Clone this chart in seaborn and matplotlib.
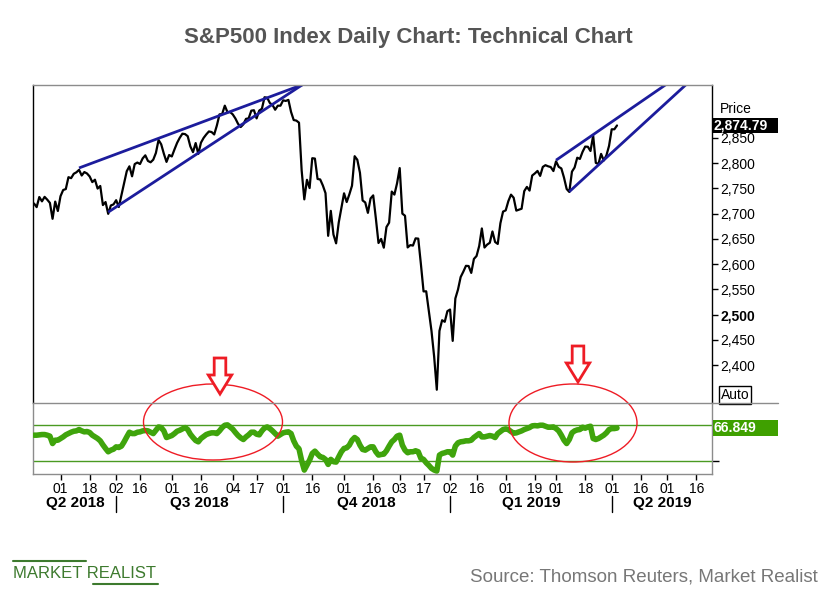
import numpy as np
import pandas as pd
import matplotlib
matplotlib.use("Agg")
import matplotlib.pyplot as plt
import matplotlib.transforms as mtransforms
from matplotlib.patches import Ellipse, Polygon, Rectangle
import seaborn as sns

# ---------------- data ----------------
first_day = "2018-05-17"
market_holidays = ["2018-05-28", "2018-07-04", "2018-09-03", "2018-11-22", "2018-12-05",
                   "2018-12-25", "2019-01-01", "2019-01-21", "2019-02-18", "2019-04-19",
                   "2019-05-27"]

close_2018_05 = [2720.13, 2712.97, 2733.01, 2724.44, 2733.29, 2727.76, 2721.33, 2689.86, 2724.01, 2705.27]
close_2018_06 = [2734.62, 2746.87, 2748.80, 2772.35, 2770.37, 2779.03, 2782.00, 2786.85, 2775.63, 2782.49,
                 2779.66, 2773.75, 2762.59, 2767.32, 2749.76, 2754.88, 2717.07, 2723.06, 2699.63, 2716.31,
                 2718.37]
close_2018_07 = [2726.71, 2713.22, 2736.61, 2759.82, 2784.17, 2793.84, 2774.02, 2798.29, 2801.31, 2798.43,
                 2809.55, 2815.62, 2804.49, 2801.83, 2806.98, 2820.40, 2846.07, 2837.44, 2818.82, 2802.60,
                 2816.29]
close_2018_08 = [2813.36, 2827.22, 2840.35, 2850.40, 2858.45, 2857.70, 2853.58, 2833.28, 2821.93, 2839.96,
                 2818.37, 2840.69, 2850.13, 2857.05, 2862.96, 2861.82, 2856.98, 2874.69, 2896.74, 2897.52,
                 2914.04, 2901.13, 2901.52]
close_2018_09 = [2896.72, 2888.60, 2878.05, 2871.68, 2877.13, 2887.89, 2888.92, 2904.18, 2904.98, 2888.80,
                 2904.31, 2907.95, 2930.75, 2929.67, 2919.37, 2915.56, 2905.97, 2914.00, 2913.98]
close_2018_10 = [2924.59, 2923.43, 2925.51, 2901.61, 2885.57, 2884.43, 2880.34, 2785.68, 2728.37, 2767.13,
                 2750.79, 2809.92, 2809.21, 2768.78, 2767.78, 2755.88, 2740.69, 2656.10, 2705.57, 2658.69,
                 2641.25, 2682.63, 2711.74]
close_2018_11 = [2740.37, 2723.06, 2738.31, 2755.45, 2813.89, 2806.83, 2781.01, 2726.22, 2722.18, 2701.58,
                 2730.20, 2736.27, 2690.73, 2641.89, 2649.93, 2632.56, 2673.45, 2682.17, 2743.79, 2737.80,
                 2760.17]
close_2018_12 = [2790.37, 2700.06, 2695.95, 2633.08, 2637.72, 2636.78, 2651.07, 2650.54, 2599.95, 2545.94,
                 2546.16, 2506.96, 2467.42, 2416.62, 2351.10, 2467.70, 2488.83, 2485.74, 2506.85]
close_2019_01 = [2510.03, 2447.89, 2531.94, 2549.69, 2574.41, 2584.96, 2596.64, 2596.26, 2582.61, 2610.30,
                 2616.10, 2635.96, 2670.71, 2632.90, 2638.70, 2642.33, 2664.76, 2643.85, 2640.00, 2681.05,
                 2704.10]
close_2019_02 = [2706.53, 2724.87, 2737.70, 2731.61, 2706.05, 2707.88, 2709.80, 2744.73, 2753.03, 2745.73,
                 2775.60, 2779.76, 2784.70, 2774.88, 2792.67, 2796.11, 2793.90, 2792.38, 2784.49]
close_2019_03 = [2803.69, 2792.81, 2789.65, 2771.45, 2748.93, 2743.07, 2783.30, 2791.52, 2810.92, 2808.48,
                 2822.48, 2832.94, 2832.57, 2824.23, 2854.88, 2800.71, 2798.36, 2818.46, 2805.37, 2815.44,
                 2834.40]
close_2019_04 = [2867.19, 2867.24, 2874.79]

rsi_2018_05 = [58.9, 58.9, 59.3, 59.6, 59.6, 58.9, 57.8, 49.6, 53.3, 53.3]
rsi_2018_06 = [55.2, 57.0, 59.3, 60.7, 62.2, 63.3, 63.7, 65.2, 63.7, 62.6, 63.0, 61.9, 58.9, 57.0, 55.2,
               52.6, 48.1, 44.1, 40.4, 42.2, 43.3]
rsi_2018_07 = [45.9, 45.2, 46.7, 51.5, 57.0, 62.2, 60.7, 60.7, 62.2, 62.6, 63.7, 64.1, 63.7, 62.2, 60.7,
               64.4, 68.1, 67.4, 63.7, 56.3, 57.4]
rsi_2018_08 = [58.5, 60.7, 63.3, 64.4, 65.9, 67.4, 65.2, 60.0, 56.3, 53.0, 51.5, 55.2, 57.4, 59.6, 60.7,
               61.5, 61.5, 60.7, 63.7, 67.4, 70.0, 70.4, 68.1]
rsi_2018_09 = [65.6, 61.9, 58.5, 55.9, 54.1, 57.0, 59.3, 62.2, 62.2, 60.0, 59.3, 63.7, 67.0, 68.1, 66.3,
               63.7, 60.7, 57.8, 59.6]
rsi_2018_10 = [61.5, 62.2, 62.6, 60.7, 52.6, 46.7, 43.7, 30.4, 20.0, 25.6, 31.1, 38.5, 41.1, 37.8, 34.8,
               34.1, 31.9, 26.3, 31.9, 29.3, 28.9, 34.8, 40.4]
rsi_2018_11 = [44.1, 44.8, 47.8, 53.3, 56.3, 54.1, 47.8, 43.0, 42.2, 44.1, 45.9, 45.9, 40.4, 36.7, 37.4,
               37.8, 41.5, 46.7, 51.5, 54.1, 57.8]
rsi_2018_12 = [58.9, 47.8, 42.2, 39.3, 40.4, 40.4, 41.5, 40.4, 33.0, 31.9, 28.1, 25.2, 21.9, 20.0, 18.9,
               36.7, 38.5, 39.3, 40.4]
rsi_2019_01 = [40.4, 36.7, 46.7, 50.4, 51.5, 51.9, 52.6, 52.6, 53.3, 56.3, 58.5, 60.7, 57.0, 57.0, 57.8,
               58.5, 57.8, 56.3, 60.7, 63.0, 65.2]
rsi_2019_02 = [65.9, 65.2, 63.0, 61.1, 61.5, 62.6, 63.7, 65.2, 66.3, 67.4, 69.3, 69.6, 69.3, 70.0, 70.0,
               68.9, 67.8, 67.8, 68.1]
rsi_2019_03 = [66.3, 63.7, 58.9, 53.3, 49.6, 54.1, 61.5, 63.7, 64.8, 65.2, 67.8, 66.7, 68.1, 68.9, 55.2,
               54.1, 55.2, 57.0, 58.9, 61.5, 65.2]
rsi_2019_04 = [66.3, 66.3, 66.849]

price_ticks = [2400, 2450, 2500, 2550, 2600, 2650, 2700, 2750, 2800, 2850]
rsi_levels = [30, 70]
tick_dates = ["2018-06-01", "2018-06-18", "2018-07-02", "2018-07-16", "2018-08-01", "2018-08-16",
              "2018-09-04", "2018-09-17", "2018-10-01", "2018-10-16", "2018-11-01", "2018-11-16",
              "2018-12-03", "2018-12-17", "2019-01-02", "2019-01-16", "2019-02-01", "2019-02-19",
              "2019-03-01", "2019-03-18", "2019-04-01", "2019-04-16", "2019-05-01", "2019-05-16"]
quarter_starts = ["2018-04-01", "2018-07-01", "2018-10-01", "2019-01-01", "2019-04-01", "2019-07-01"]
quarter_labels = ["Q2 2018", "Q3 2018", "Q4 2018", "Q1 2019", "Q2 2019"]

trend_start_dates = ["2018-06-12", "2018-06-27", "2019-03-01", "2019-03-08"]
trend_start_prices = [2790.6, 2703.0, 2806.0, 2743.6]
trend_end_dates = ["2018-10-11", "2018-10-11", "2019-05-01", "2019-05-13"]
trend_end_prices = [2957.0, 2958.0, 2957.8, 2960.3]

# ---------------- prep ----------------
prices = np.array(close_2018_05 + close_2018_06 + close_2018_07 + close_2018_08 + close_2018_09 +
                  close_2018_10 + close_2018_11 + close_2018_12 + close_2019_01 + close_2019_02 +
                  close_2019_03 + close_2019_04)
rsi = np.array(rsi_2018_05 + rsi_2018_06 + rsi_2018_07 + rsi_2018_08 + rsi_2018_09 + rsi_2018_10 +
               rsi_2018_11 + rsi_2018_12 + rsi_2019_01 + rsi_2019_02 + rsi_2019_03 + rsi_2019_04)

cal = pd.bdate_range(first_day, "2019-07-31")
cal = cal[~cal.isin(pd.to_datetime(market_holidays))]
def pos(d):
    return int(cal.searchsorted(pd.Timestamp(d)))

idx = np.arange(len(prices))
df = pd.DataFrame({"day": idx, "price": prices, "rsi": rsi})

# ---------------- figure ----------------
sns.set_style("white")
plt.rcParams["font.family"] = ["Liberation Sans", "DejaVu Sans"]

W, H = 840, 600
fig = plt.figure(figsize=(8.4, 6.0), dpi=100)
L, R, T, M, B = 33, 712, 85, 403, 474
ax = fig.add_axes([L / W, 1 - M / H, (R - L) / W, (M - T) / H])
ax2 = fig.add_axes([L / W, 1 - B / H, (R - L) / W, (B - M) / H], sharex=ax)

XMIN, XMAX = -0.38, 255.85
black = "#000000"
gray = "#8c8c8c"
green = "#3fa40c"
navy = "#1c1c9c"
red = "#ee1c25"

# price panel
sns.lineplot(data=df, x="day", y="price", ax=ax, color=black, linewidth=1.6)
for sd, sp, ed, ep in zip(trend_start_dates, trend_start_prices, trend_end_dates, trend_end_prices):
    ax.plot([pos(sd), pos(ed)], [sp, ep], color=navy, linewidth=2.0, solid_capstyle="butt")
ax.set_xlim(XMIN, XMAX)
ax.set_ylim(2324.8, 2955.0)
ax.set_xlabel("")
ax.set_ylabel("")
ax.yaxis.tick_right()
ax.set_yticks(price_ticks)
ax.set_yticklabels([f"{v:,}" for v in price_ticks])
for lab, v in zip(ax.get_yticklabels(), price_ticks):
    if v == 2500:
        lab.set_fontweight("bold")
        lab.set_fontsize(11)
ax.tick_params(axis="y", which="both", direction="out", length=4, width=1, colors=black,
               labelsize=10, pad=2, right=True, left=False)
ax.tick_params(axis="x", which="both", bottom=False, labelbottom=False)
ax.spines["left"].set_color(black)
ax.spines["right"].set_color(black)
ax.spines["top"].set_color(gray)
ax.spines["bottom"].set_visible(False)
for s in ax.spines.values():
    s.set_linewidth(1)

ybl = mtransforms.blended_transform_factory(ax.transAxes, ax.transData)
last_p = prices[-1]
ax.add_patch(Rectangle((1.0, last_p - 14.0), 66 / (R - L), 28.0, transform=ybl,
                       facecolor=black, edgecolor="none", clip_on=False, zorder=5))
ax.text(1.0 + 2 / (R - L), last_p, f"{last_p:,.2f}", transform=ybl, color="white",
        fontsize=10, fontweight="bold", va="center", ha="left", zorder=6, clip_on=False)
ax.text(1.0 + 8 / (R - L), (M - 109) / (M - T), "Price", transform=ax.transAxes,
        fontsize=10, va="center", ha="left", color=black)
ax.text(1.0 + 9 / (R - L), (M - 395) / (M - T), "Auto", transform=ax.transAxes,
        fontsize=10, va="center", ha="left", color=black,
        bbox=dict(boxstyle="square,pad=0.12", facecolor="white", edgecolor=black, linewidth=1))

# RSI panel
for lv in rsi_levels:
    ax2.axhline(lv, color="#4a9a22", linewidth=1.0, zorder=1)
sns.lineplot(data=df, x="day", y="rsi", ax=ax2, color=green, linewidth=4.0, zorder=3)
ax2.set_xlim(XMIN, XMAX)
ax2.set_ylim(15.6, 94.8)
ax2.set_xlabel("")
ax2.set_ylabel("")
ax2.yaxis.tick_right()
ax2.set_yticks([30])
ax2.set_yticklabels([""])
ax2.tick_params(axis="y", direction="out", length=5, width=1, colors=black, right=True, left=False)
tick_pos = [pos(d) for d in tick_dates]
ax2.set_xticks(tick_pos)
ax2.set_xticklabels([pd.Timestamp(d).strftime("%d") for d in tick_dates])
ax2.tick_params(axis="x", direction="out", length=4, width=1, colors=black, labelsize=10, pad=2,
                bottom=True)
for side in ["left", "right", "bottom"]:
    ax2.spines[side].set_color(gray)
    ax2.spines[side].set_linewidth(1)
ax2.spines["top"].set_visible(False)

last_r = rsi[-1]
ybl2 = mtransforms.blended_transform_factory(ax2.transAxes, ax2.transData)
ax2.add_patch(Rectangle((1.0 + 1 / (R - L), last_r - 9.2), 65 / (R - L), 18.4, transform=ybl2,
                        facecolor="#3fa000", edgecolor="none", clip_on=False, zorder=5))
ax2.text(1.0 + 2 / (R - L), last_r, f"{last_r:.3f}", transform=ybl2, color="white",
         fontsize=10, fontweight="bold", va="center", ha="left", zorder=6, clip_on=False)

# quarter labels and separators
xfig = mtransforms.blended_transform_factory(ax2.transData, fig.transFigure)
q_pos = [pos(q) for q in quarter_starts]
for i, lab in enumerate(quarter_labels):
    a = max(q_pos[i], XMIN)
    b = min(q_pos[i + 1], XMAX)
    ax2.text((a + b) / 2, 1 - 503 / H, lab, transform=xfig, ha="center", va="center",
             fontsize=11, fontweight="bold", color=black)
for q in q_pos[1:-1]:
    ax2.plot([q, q], [1 - 496 / H, 1 - 512 / H], transform=xfig, color=black, linewidth=1,
             clip_on=False)

# overlay for annotation shapes
ov = fig.add_axes([0, 0, 1, 1], zorder=10)
ov.set_xlim(0, W)
ov.set_ylim(H, 0)
ov.axis("off")
ov.patch.set_alpha(0)
ov.plot([L, 778], [M, M], color=gray, linewidth=1)
ov.add_patch(Ellipse((213, 422), 139, 76, facecolor="none", edgecolor=red, linewidth=1))
ov.add_patch(Ellipse((573, 423), 128, 78, facecolor="none", edgecolor=red, linewidth=1))
for cx, ty in [(220, 358), (578, 346)]:
    pts = [(cx - 5.8, ty), (cx + 5.8, ty), (cx + 5.8, ty + 17), (cx + 11.7, ty + 17), (cx, ty + 36),
           (cx - 11.7, ty + 17), (cx - 5.8, ty + 17)]
    ov.add_patch(Polygon(pts, closed=True, facecolor="white", edgecolor=red, linewidth=2,
                         joinstyle="miter"))

# titles and footer
fig.text(408 / W, 1 - 38 / H, "S&P500 Index Daily Chart: Technical Chart", ha="center", va="center",
         fontsize=16, fontweight="bold", color="#555555")
fig.text(13 / W, 1 - 573 / H, "MARKET REALIST", ha="left", va="center", fontsize=12,
         color="#3d7a2e")
ov.plot([13, 86], [561, 561], color="#3d7a2e", linewidth=1.5)
ov.plot([93, 158], [584, 584], color="#3d7a2e", linewidth=1.5)
fig.text(818 / W, 1 - 577 / H, "Source: Thomson Reuters, Market Realist", ha="right", va="center",
         fontsize=13.5, color="#777777")

fig.savefig("out.png", dpi=100)
